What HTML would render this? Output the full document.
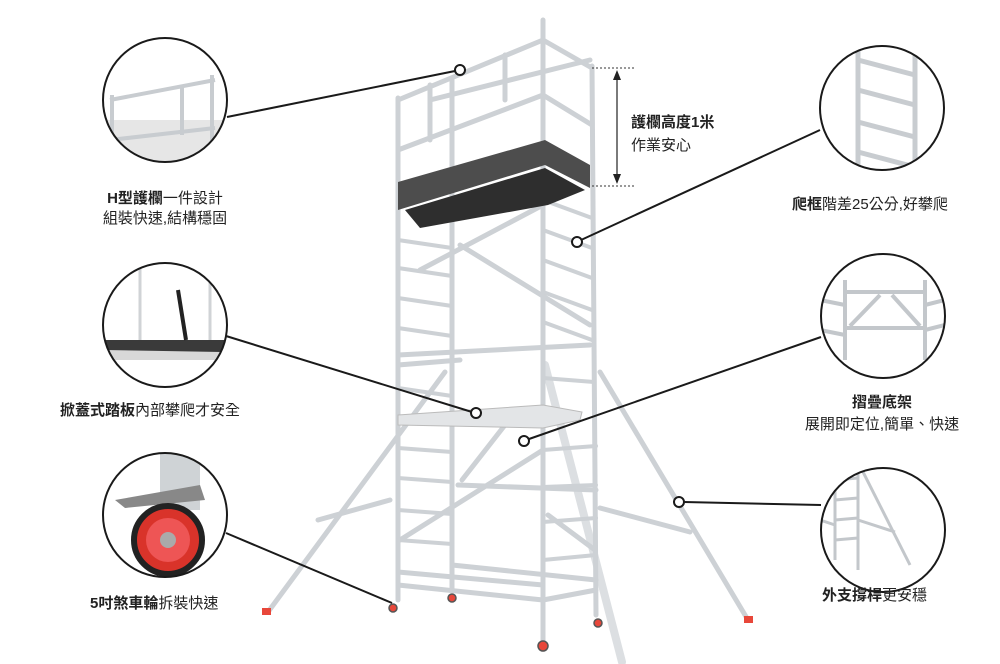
<!DOCTYPE html>
<html><head><meta charset="utf-8"><style>
html,body{margin:0;padding:0;background:#fff}
svg{display:block}
text{font-family:"Liberation Sans","Noto Sans CJK TC",sans-serif;fill:#222;font-size:15px}
.b{font-weight:bold}
</style></head><body>
<svg width="1000" height="664" viewBox="0 0 1000 664" xmlns="http://www.w3.org/2000/svg">
<defs>
<clipPath id="c1"><circle cx="165" cy="100" r="62"/></clipPath>
<clipPath id="c2"><circle cx="882" cy="108" r="62"/></clipPath>
<clipPath id="c3"><circle cx="165" cy="325" r="62"/></clipPath>
<clipPath id="c4"><circle cx="883" cy="316" r="62"/></clipPath>
<clipPath id="c5"><circle cx="165" cy="515" r="62"/></clipPath>
<clipPath id="c6"><circle cx="883" cy="530" r="62"/></clipPath>
</defs>
<g stroke="#cdd1d5" stroke-width="5" fill="none" stroke-linecap="round">
<line x1="445" y1="372" x2="268" y2="612"/>
<line x1="600" y1="372" x2="748" y2="620"/>
<line x1="600" y1="508" x2="690" y2="532"/>
<line x1="390" y1="500" x2="318" y2="520"/>
<line x1="545" y1="365" x2="622" y2="662" stroke-width="8" stroke="#dcdfe2"/>
<line x1="398" y1="98" x2="398" y2="600"/>
<line x1="452" y1="80" x2="452" y2="590"/>
<line x1="543" y1="20" x2="543" y2="645"/>
<line x1="592" y1="66" x2="596" y2="615"/>
<line x1="398" y1="100" x2="543" y2="40"/>
<line x1="398" y1="150" x2="543" y2="95"/>
<line x1="543" y1="40" x2="592" y2="68"/>
<line x1="543" y1="95" x2="592" y2="125"/>
<line x1="430" y1="100" x2="590" y2="60"/>
<line x1="505" y1="55" x2="505" y2="100"/>
<line x1="430" y1="85" x2="430" y2="140"/>
<g stroke-width="4">
<line x1="398" y1="240" x2="452" y2="248"/><line x1="398" y1="268" x2="452" y2="276"/>
<line x1="398" y1="298" x2="452" y2="306"/><line x1="398" y1="328" x2="452" y2="336"/>
<line x1="398" y1="388" x2="452" y2="396"/><line x1="398" y1="448" x2="452" y2="452"/>
<line x1="398" y1="478" x2="452" y2="482"/><line x1="398" y1="510" x2="452" y2="514"/>
<line x1="398" y1="540" x2="452" y2="544"/>
<line x1="543" y1="200" x2="592" y2="218"/><line x1="543" y1="230" x2="592" y2="248"/>
<line x1="543" y1="260" x2="592" y2="278"/><line x1="543" y1="292" x2="592" y2="310"/>
<line x1="543" y1="322" x2="592" y2="340"/><line x1="543" y1="378" x2="594" y2="382"/>
<line x1="543" y1="450" x2="596" y2="446"/><line x1="543" y1="487" x2="596" y2="485"/>
<line x1="543" y1="522" x2="596" y2="518"/><line x1="543" y1="560" x2="596" y2="555"/>
</g>
<line x1="398" y1="355" x2="590" y2="345"/>
<line x1="398" y1="365" x2="460" y2="360"/>
<line x1="420" y1="270" x2="543" y2="205"/>
<line x1="400" y1="540" x2="543" y2="450"/>
<line x1="460" y1="245" x2="590" y2="325"/>
<line x1="462" y1="480" x2="505" y2="425"/>
<line x1="458" y1="485" x2="596" y2="490"/>
<line x1="548" y1="515" x2="595" y2="550"/>
<line x1="398" y1="572" x2="543" y2="585"/>
<line x1="398" y1="585" x2="543" y2="600"/>
<line x1="452" y1="565" x2="596" y2="580"/>
<line x1="543" y1="600" x2="596" y2="590"/>
</g>
<polygon points="398,182 545,140 590,165 590,188 545,165 398,210" fill="#4d4d4d"/>
<polygon points="405,210 545,168 585,190 548,205 420,228" fill="#2e2e2e"/>
<polygon points="398,415 543,405 582,412 580,420 543,428 398,425" fill="#e3e5e7" stroke="#bbb"/>
<g fill="#e8473a"><rect x="262" y="608" width="9" height="7"/><rect x="744" y="616" width="9" height="7"/></g>
<g fill="#e8473a" stroke="#555" stroke-width="1.5">
<circle cx="393" cy="608" r="4"/><circle cx="452" cy="598" r="4"/><circle cx="543" cy="646" r="5"/><circle cx="598" cy="623" r="4"/></g>
<g stroke="#333" stroke-width="1" stroke-dasharray="2,2"><line x1="592" y1="68" x2="635" y2="68"/><line x1="592" y1="186" x2="635" y2="186"/></g>
<line x1="617" y1="74" x2="617" y2="180" stroke="#222" stroke-width="1.2"/>
<polygon points="617,70 613,80 621,80" fill="#222"/><polygon points="617,184 613,174 621,174" fill="#222"/>
<text x="631" y="127" class="b">護欄高度1米</text>
<text x="631" y="150">作業安心</text>
<g clip-path="url(#c1)" stroke="#c8ccd0" stroke-width="4" fill="none">
<rect x="100" y="120" width="130" height="60" fill="#e6e6e6" stroke="none"/>
<line x1="110" y1="100" x2="215" y2="80"/><line x1="110" y1="140" x2="215" y2="128"/>
<line x1="112" y1="95" x2="112" y2="160"/><line x1="182" y1="85" x2="182" y2="135"/><line x1="212" y1="75" x2="212" y2="170"/>
</g>
<g clip-path="url(#c2)" stroke="#c8ccd0" stroke-width="5" fill="none">
<line x1="858" y1="40" x2="858" y2="180"/><line x1="915" y1="40" x2="915" y2="180"/>
<line x1="858" y1="60" x2="915" y2="75"/><line x1="858" y1="90" x2="915" y2="105"/><line x1="858" y1="122" x2="915" y2="137"/><line x1="858" y1="152" x2="915" y2="167"/>
</g>
<g clip-path="url(#c3)">
<polygon points="100,345 230,345 230,360 100,360" fill="#d8d8d8"/>
<polygon points="100,340 230,340 222,352 105,350" fill="#3a3a3a"/>
<line x1="178" y1="290" x2="186" y2="340" stroke="#222" stroke-width="4"/>
<g stroke="#d0d3d6" stroke-width="3"><line x1="140" y1="265" x2="140" y2="340"/><line x1="210" y1="265" x2="210" y2="340"/></g>
</g>
<g clip-path="url(#c4)" stroke="#c3c7cb" stroke-width="4" fill="none">
<line x1="845" y1="280" x2="845" y2="360"/><line x1="925" y1="280" x2="925" y2="360"/>
<line x1="845" y1="292" x2="925" y2="292"/><line x1="845" y1="328" x2="925" y2="328"/>
<line x1="850" y1="326" x2="880" y2="295"/><line x1="892" y1="295" x2="920" y2="326"/>
<line x1="820" y1="300" x2="845" y2="305"/><line x1="820" y1="330" x2="845" y2="335"/>
<line x1="925" y1="305" x2="945" y2="300"/><line x1="925" y1="330" x2="945" y2="325"/>
</g>
<g clip-path="url(#c5)">
<rect x="160" y="440" width="40" height="70" fill="#cfd3d6"/>
<polygon points="115,500 200,485 205,500 125,508" fill="#888"/>
<circle cx="168" cy="540" r="34" fill="#d9332a"/><circle cx="168" cy="540" r="22" fill="#e55"/><circle cx="168" cy="540" r="8" fill="#aaa"/>
<circle cx="168" cy="540" r="34" fill="none" stroke="#222" stroke-width="6"/>
</g>
<g clip-path="url(#c6)" stroke="#c3c7cb" stroke-width="3" fill="none">
<line x1="835" y1="470" x2="835" y2="560"/><line x1="858" y1="460" x2="858" y2="570"/>
<line x1="835" y1="480" x2="858" y2="478"/><line x1="835" y1="500" x2="858" y2="498"/><line x1="835" y1="520" x2="858" y2="518"/><line x1="835" y1="540" x2="858" y2="538"/>
<line x1="858" y1="462" x2="910" y2="565"/><line x1="858" y1="520" x2="895" y2="532"/><line x1="820" y1="520" x2="835" y2="525"/>
</g>
<g fill="none" stroke="#1a1a1a" stroke-width="2">
<circle cx="165" cy="100" r="62"/><circle cx="882" cy="108" r="62"/><circle cx="165" cy="325" r="62"/>
<circle cx="883" cy="316" r="62"/><circle cx="165" cy="515" r="62"/><circle cx="883" cy="530" r="62"/>
<line x1="227" y1="117" x2="455" y2="71"/>
<line x1="820" y1="130" x2="581" y2="240"/>
<line x1="226" y1="336" x2="472" y2="412"/>
<line x1="821" y1="337" x2="529" y2="439"/>
<line x1="226" y1="533" x2="392" y2="603"/>
<line x1="821" y1="505" x2="684" y2="502"/>
</g>
<g fill="#fff" stroke="#1a1a1a" stroke-width="2">
<circle cx="460" cy="70" r="5"/><circle cx="577" cy="242" r="5"/><circle cx="476" cy="413" r="5"/>
<circle cx="524" cy="441" r="5"/><circle cx="679" cy="502" r="5"/>
</g>
<text x="165" y="203" text-anchor="middle"><tspan class="b">H型護欄</tspan>一件設計</text>
<text x="165" y="223" text-anchor="middle">組裝快速,結構穩固</text>
<text x="60" y="415"><tspan class="b">掀蓋式踏板</tspan>內部攀爬才安全</text>
<text x="90" y="608"><tspan class="b">5吋煞車輪</tspan>拆裝快速</text>
<text x="792" y="209"><tspan class="b">爬框</tspan>階差25公分,好攀爬</text>
<text x="882" y="407" text-anchor="middle" class="b">摺疊底架</text>
<text x="882" y="429" text-anchor="middle">展開即定位,簡單、快速</text>
<text x="822" y="600"><tspan class="b">外支撐桿</tspan>更安穩</text>
</svg>
</body></html>
